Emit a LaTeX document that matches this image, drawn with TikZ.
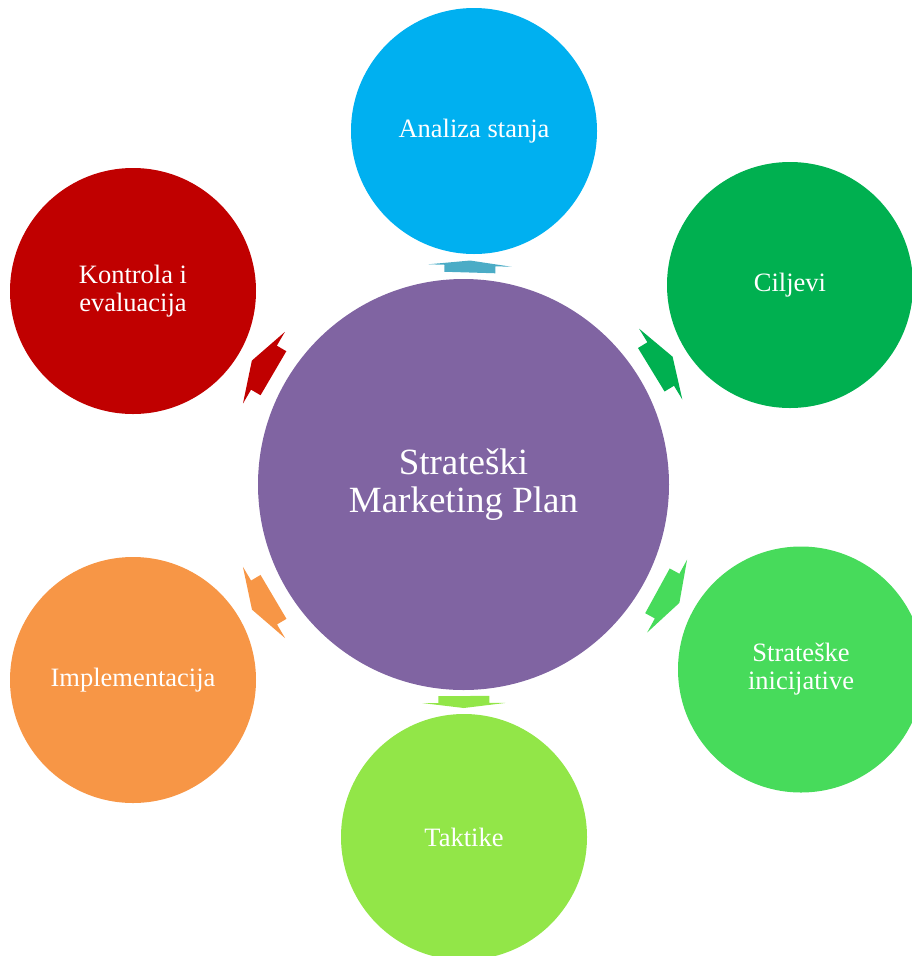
\documentclass[tikz,border=0pt]{standalone}
\usepackage{fontspec}
\setmainfont{Liberation Serif}
\usetikzlibrary{calc}
\definecolor{hubpurple}{HTML}{8064A2}
\definecolor{skyblue}{HTML}{00B0F0}
\definecolor{aquaarrow}{HTML}{4BACC6}
\definecolor{darkgreen}{HTML}{00B050}
\definecolor{midgreen}{RGB}{71,219,91}
\definecolor{limegreen}{RGB}{146,230,72}
\definecolor{orange}{HTML}{F79646}
\definecolor{darkred}{HTML}{C00000}
\tikzset{
    phase/.style={circle, fill=#1, minimum size=246pt, inner sep=0pt,
        text=white, align=center, font=\fontsize{26.5}{28}\selectfont},
    hub/.style={circle, fill=hubpurple, minimum size=411pt, inner sep=0pt,
        text=white, align=center, font=\fontsize{37}{38}\selectfont},
    % flat block arrow: colour, head length, shaft length
    pics/spoke/.style n args={3}{code={
        \fill[#1] ({-(#2+#3)/2},-25.5) -- ({-(#2+#3)/2+#3},-25.5)
            -- ({-(#2+#3)/2+#3},-41.5) -- ({(#2+#3)/2},0)
            -- ({-(#2+#3)/2+#3},41.5) -- ({-(#2+#3)/2+#3},25.5)
            -- ({-(#2+#3)/2},25.5) -- cycle;
    }},
    on gap/.style={pos=.5, sloped, allow upside down},
}

\begin{document}
\begin{tikzpicture}[x=1pt, y=-1pt]
    \clip (0,0) rectangle (912,956);

    \node[hub] (plan) at (463.5,484.5) {Strateški\\Marketing Plan};

    \node[phase=skyblue]    (analiza)  at (474,131) {Analiza stanja};
    \node[phase=darkgreen]  (ciljevi)  at (790,285) {Ciljevi};
    \node[phase=midgreen]   (inicij)   at (801,669.5) {Strateške\\inicijative};
    \node[phase=limegreen]  (taktike)  at (464,837) {Taktike};
    \node[phase=orange]     (implem)   at (133,680) {Implementacija};
    \node[phase=darkred]    (kontrola) at (133,291) {Kontrola i\\evaluacija};

    \path (plan) -- pic[on gap]{spoke={aquaarrow}{5}{7}} (analiza);
    \path (plan) -- pic[on gap]{spoke={darkgreen}{14}{11}} (ciljevi);
    \path (plan) -- pic[on gap]{spoke={midgreen}{14}{11}} (inicij);
    \path (plan) -- pic[on gap]{spoke={limegreen}{5}{7}} (taktike);
    \path (plan) -- pic[on gap]{spoke={orange}{14}{11}} (implem);
    \path (plan) -- pic[on gap]{spoke={darkred}{14}{11}} (kontrola);
\end{tikzpicture}
\end{document}
